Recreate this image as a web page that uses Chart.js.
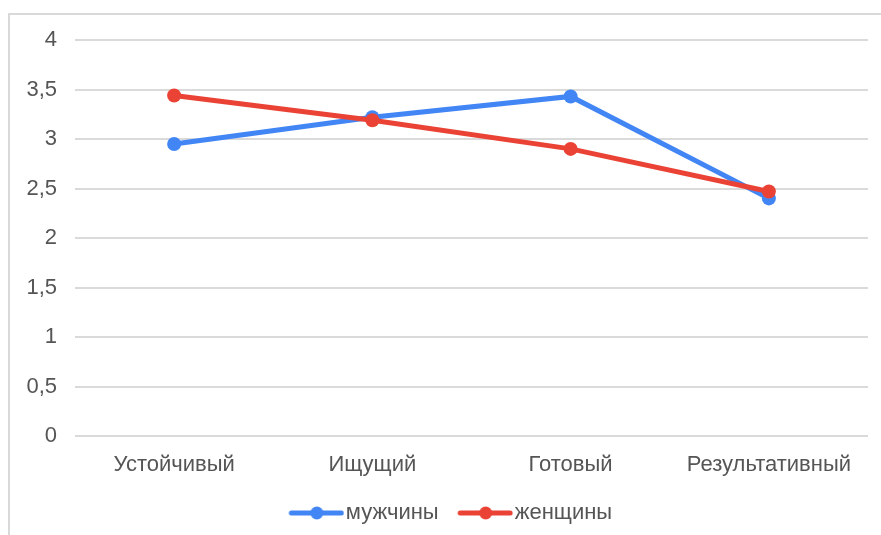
<!DOCTYPE html>
<html lang="ru">
<head>
<meta charset="utf-8">
<title>мужчины / женщины</title>
<script src="https://cdn.jsdelivr.net/npm/chart.js@4/dist/chart.umd.min.js"></script>
<style>
  html, body { margin: 0; padding: 0; background: #fff; overflow: hidden; }
  #wrap { position: relative; width: 881px; height: 535px; }
  #frame {
    position: absolute; left: 8px; top: 13px; right: 0; bottom: 0;
    border-left: 2px solid #d9d9d9; border-top: 2px solid #d9d9d9;
  }
  #chart { position: absolute; left: 0; top: 0; }
</style>
</head>
<body>
<div id="wrap">
  <div id="frame"></div>
  <canvas id="chart" width="881" height="535"></canvas>
</div>
<script>
// категории и значения
var CATEGORIES = ["Устойчивый", "Ищущий", "Готовый", "Результативный"];
var MEN = [2.95, 3.22, 3.43, 2.4];
var WOMEN = [3.44, 3.19, 2.9, 2.47];
var Y_TICKS = [0, 0.5, 1, 1.5, 2, 2.5, 3, 3.5, 4];

var BLUE = "#4285f4";
var RED = "#ea4335";
var TEXT = "#555555";
var FONT = "'Liberation Sans', Arial, sans-serif";
var FONT_SIZE = 22;

/** маркер легенды: линия с точкой посередине */
function legendMarker(color) {
  var c = document.createElement("canvas");
  c.width = 74;
  c.height = 16;
  var ctx = c.getContext("2d");
  ctx.strokeStyle = color;
  ctx.lineWidth = 5;
  ctx.lineCap = "round";
  ctx.beginPath();
  ctx.moveTo(21, 8);
  ctx.lineTo(71, 8);
  ctx.stroke();
  ctx.fillStyle = color;
  ctx.beginPath();
  ctx.arc(46.5, 8, 6.5, 0, Math.PI * 2);
  ctx.fill();
  return c;
}

var markers = [legendMarker(BLUE), legendMarker(RED)];

// легенда в оригинале чуть правее центра
var legendShift = {
  id: "legendShift",
  afterLayout: function (chart) {
    if (chart.legend) {
      chart.legend.left += 12;
      chart.legend.right += 12;
    }
  },
};

new Chart(document.getElementById("chart"), {
  type: "line",
  data: {
    labels: CATEGORIES,
    datasets: [
      {
        label: "мужчины",
        data: MEN,
        borderColor: BLUE,
        backgroundColor: BLUE,
        borderWidth: 5,
        pointRadius: 7,
        pointBorderWidth: 0,
        tension: 0,
        order: 1,
      },
      {
        label: "женщины",
        data: WOMEN,
        borderColor: RED,
        backgroundColor: RED,
        borderWidth: 5,
        pointRadius: 7,
        pointBorderWidth: 0,
        tension: 0,
        order: 0,
      },
    ],
  },
  plugins: [legendShift],
  options: {
    responsive: false,
    animation: false,
    layout: { padding: { left: 0, right: 13, top: 40, bottom: 1 } },
    scales: {
      x: {
        offset: true,
        grid: { display: false },
        border: { display: false },
        ticks: {
          color: TEXT,
          padding: 8,
          maxRotation: 0,
          font: { family: FONT, size: FONT_SIZE },
        },
        afterFit: function (scale) {
          scale.height = 56;
        },
      },
      y: {
        min: Y_TICKS[0],
        max: Y_TICKS[Y_TICKS.length - 1],
        afterBuildTicks: function (scale) {
          scale.ticks = Y_TICKS.map(function (v) {
            return { value: v };
          });
        },
        grid: { color: "#dadada", lineWidth: 2, drawTicks: false },
        border: { display: false },
        ticks: {
          color: TEXT,
          padding: 18,
          font: { family: FONT, size: FONT_SIZE },
          callback: function (v) {
            return String(v).replace(".", ",");
          },
        },
        afterFit: function (scale) {
          scale.width = 75;
        },
      },
    },
    plugins: {
      tooltip: { enabled: false },
      legend: {
        position: "bottom",
        labels: {
          usePointStyle: true,
          pointStyleWidth: 55,
          padding: 10,
          color: TEXT,
          font: { family: FONT, size: FONT_SIZE },
          sort: function (a, b) {
            return a.datasetIndex - b.datasetIndex;
          },
          generateLabels: function (chart) {
            var items = Chart.defaults.plugins.legend.labels.generateLabels(chart);
            items.forEach(function (it) {
              it.pointStyle = markers[it.datasetIndex];
            });
            return items;
          },
        },
      },
    },
  },
});
</script>
</body>
</html>
